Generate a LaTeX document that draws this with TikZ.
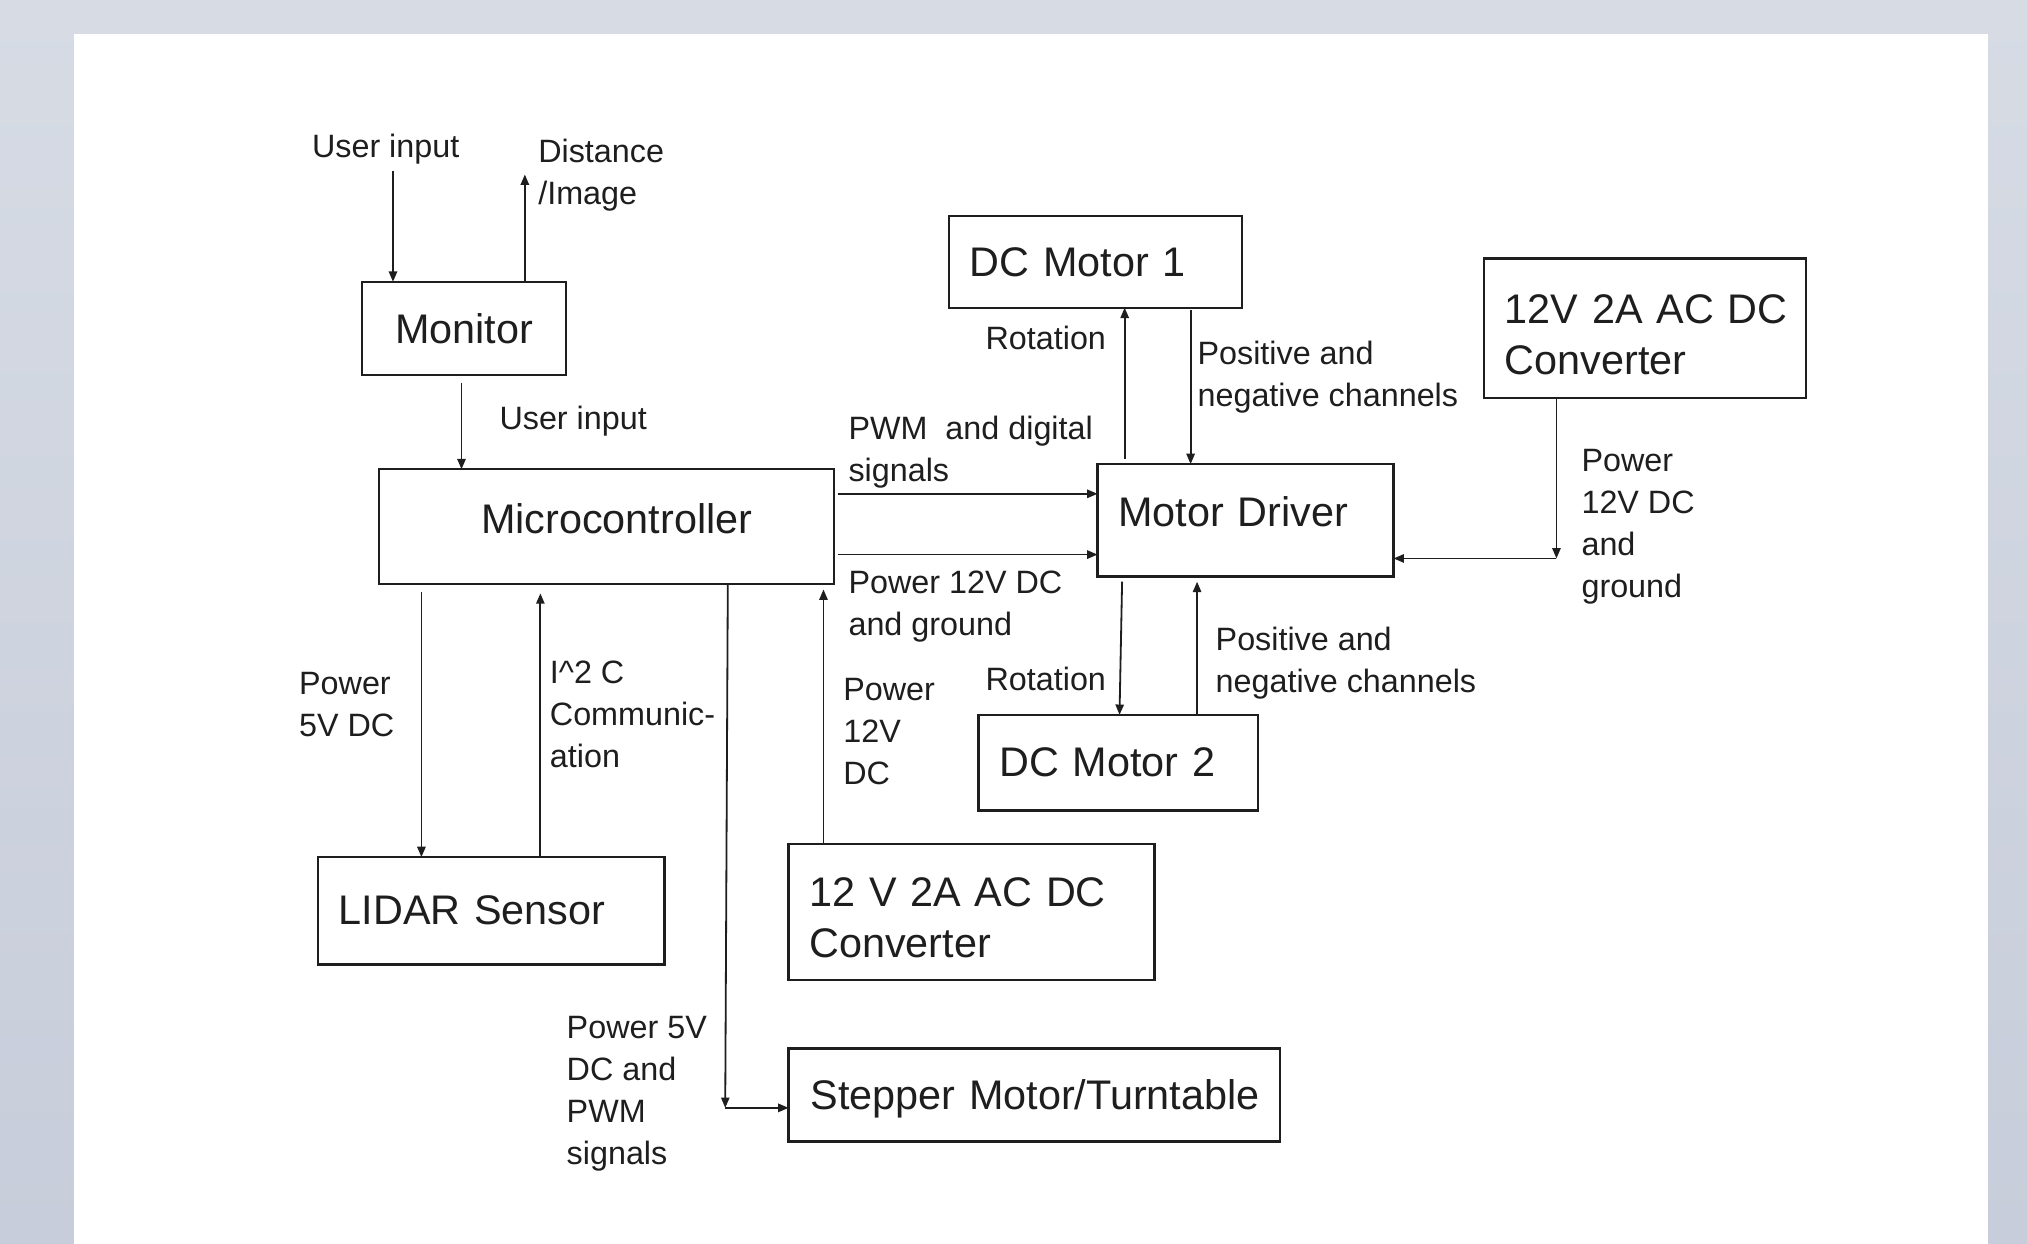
\documentclass[tikz,border=0pt]{standalone}
\usepackage{fontspec}
\setmainfont{Liberation Sans}
\usetikzlibrary{arrows.meta}
\definecolor{pagetop}{HTML}{D6DBE4}
\definecolor{pagebottom}{HTML}{C7CDDA}
\definecolor{inkcolor}{HTML}{1E1E1E}
\tikzset{
  sys box/.style={draw=inkcolor,line width=.9pt,anchor=north west,outer sep=0pt,inner ysep=0pt,inner xsep=8pt,align=left,text=inkcolor,font=\fontsize{16pt}{19.75pt}\selectfont},
  sys arrow/.style={inkcolor,line width=.7pt,-{Triangle[length=4pt,width=3.2pt]}},
  sys note/.style={anchor=base west,inner sep=0pt,align=left,text=inkcolor,font=\fontsize{12.5pt}{16.25pt}\selectfont}
}
\begin{document}
\begin{tikzpicture}[x=.5pt,y=-.5pt]
  \useasboundingbox (0,0) rectangle (1568,962);
  \shade[top color=pagetop,bottom color=pagebottom] (0,0) rectangle (1568,962);
  \fill[white] (57,26) rectangle (1538,962);
  % blocks
  \node[sys box,align=center,text width=63pt,minimum height=36pt] (mon) at (280,218) {Monitor};
  \node[sys box,align=center,text width=160pt,minimum height=44.5pt,text depth=6.5pt] (mcu) at (293,363) {\hspace*{8pt}Microcontroller};
  \node[sys box,text width=97.5pt,minimum height=35.5pt] (dcm1) at (734,167) {DC Motor 1};
  \node[sys box,inner xsep=6pt,text width=112.5pt,minimum height=54pt] (conv1) at (1148,200) {\rule{0pt}{16pt}\hspace*{2pt}12V 2A AC DC\\\hspace*{2pt}Converter};
  \node[sys box,text width=98.5pt,minimum height=43.5pt,text depth=6.5pt] (drv) at (849,359) {Motor Driver};
  \node[sys box,text width=92pt,minimum height=37pt] (dcm2) at (757,553) {DC Motor 2};
  \node[sys box,text width=118pt,minimum height=41.5pt] (lidar) at (246,663) {LIDAR Sensor};
  \node[sys box,text width=125.5pt,minimum height=52.5pt] (conv2) at (610,653) {\rule{0pt}{15.5pt}12 V 2A AC DC\\Converter};
  \node[sys box,inner xsep=7pt,text width=176pt,minimum height=36pt,text depth=0pt] (step) at (610,811) {\hspace*{1.5pt}Stepper Motor/Turntable};
  % labels (base = last line)
  \node[sys note] (uin) at (241,122) {User input};
  \node[sys note] (dist) at (416,158.5) {Distance\\/Image};
  \node[sys note] (uin2) at (386,332) {User input};
  \node[sys note] (pwm) at (656,372.5) {PWM~ and digital\\signals};
  \node[sys note] (pwr1) at (656,491.5) {Power 12V DC\\and ground};
  \node[sys note] (rot1) at (762,270) {Rotation};
  \node[sys note] (pos1) at (926,314.5) {Positive and\\negative channels};
  \node[sys note] (pwr2) at (1223,462.5) {Power\\12V DC\\and\\ground};
  \node[sys note] (pwr3) at (231,569.5) {Power\\5V DC};
  \node[sys note] (i2c) at (425,594) {I\textasciicircum2 C\\Communic-\\ation};
  \node[sys note] (pwr4) at (652,607) {Power\\12V\\DC};
  \node[sys note] (rot2) at (762,534) {Rotation};
  \node[sys note] (pos2) at (940,535.5) {Positive and\\negative channels};
  \node[sys note] (pwr5) at (438,900.5) {Power 5V\\DC and\\PWM\\signals};
  % connectors
  \draw[sys arrow] ([xshift=31.5pt,yshift=-5pt]uin.base west) -- ([xshift=12pt]mon.north west);
  \draw[sys arrow] ([xshift=63pt]mon.north west) -- ([xshift=-5pt,yshift=11.75pt]dist.base west);
  \draw[sys arrow] ([xshift=38.5pt,yshift=-3pt]mon.south west) -- ([xshift=32pt]mcu.north west);
  \draw[sys arrow] ([xshift=16.5pt,yshift=-3pt]mcu.south west) -- ([xshift=40pt]lidar.north west);
  \draw[sys arrow] ([xshift=86pt]lidar.north west) -- ([xshift=62.5pt,yshift=-3.5pt]mcu.south west);
  \coordinate (stepC) at ([xshift=-24.5pt,yshift=-23pt]step.north west);
  \draw[sys arrow] ([xshift=135pt]mcu.south west) -- (stepC);
  \draw[sys arrow] (stepC) -- (stepC -| step.west);
  \draw[sys arrow] ([xshift=13.5pt]conv2.north west) -- ([xshift=172pt,yshift=-2pt]mcu.south west);
  \draw[sys arrow] ([xshift=1.5pt,yshift=-9.5pt]mcu.north east) -- ([yshift=-11.5pt]drv.north west);
  \draw[sys arrow] ([xshift=1.5pt,yshift=-33pt]mcu.north east) -- ([yshift=-35pt]drv.north west);
  \draw[sys arrow] ([xshift=10.5pt,yshift=2pt]drv.north west) -- ([xshift=68pt]dcm1.south west);
  \draw[sys arrow] ([xshift=93.5pt,yshift=-1pt]dcm1.south west) -- ([xshift=36pt]drv.north west);
  \draw[sys arrow] ([xshift=9.5pt,yshift=-2pt]drv.south west) -- ([xshift=54.5pt]dcm2.north west);
  \draw[sys arrow] ([xshift=84.5pt]dcm2.north west) -- ([xshift=38.5pt,yshift=-2pt]drv.south west);
  \coordinate (convC) at ([xshift=63pt,yshift=-36.5pt]drv.north east);
  \draw[sys arrow] ([xshift=28pt]conv1.south west) -- (convC);
  \draw[sys arrow] (convC) -- (convC -| drv.east);
\end{tikzpicture}
\end{document}
